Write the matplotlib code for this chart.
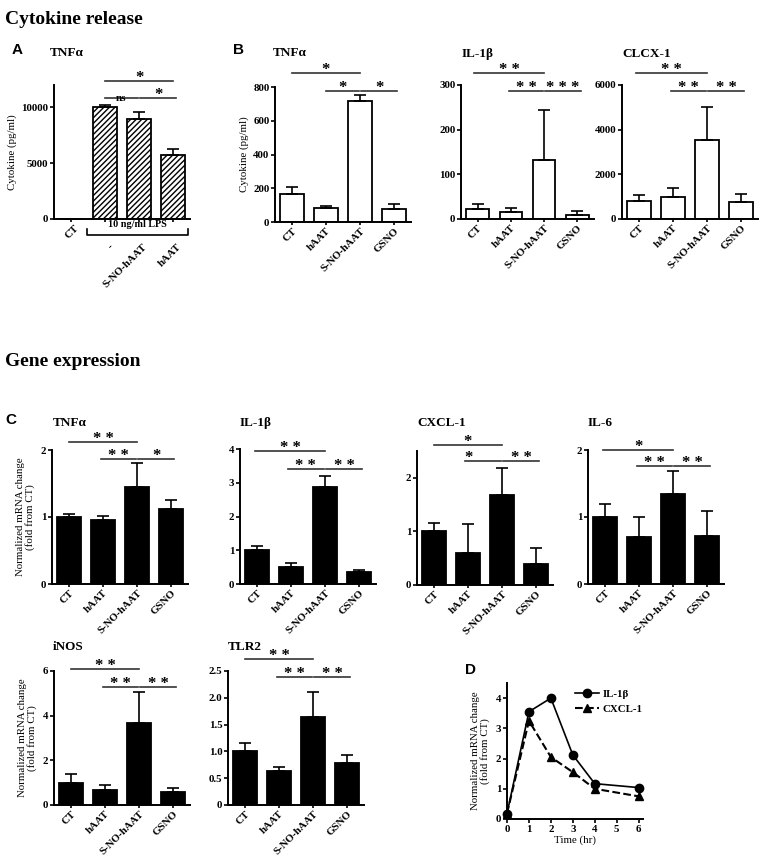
import numpy as np
import matplotlib
matplotlib.use('Agg')
import matplotlib.pyplot as plt

plt.rcParams['font.family'] = ['Liberation Serif', 'DejaVu Serif']
plt.rcParams['font.weight'] = 'bold'

# ---- data ----
groups = ['CT', 'hAAT', 'S-NO-hAAT', 'GSNO']
groups_a = ['CT', '-', 'S-NO-hAAT', 'hAAT']

# A: TNFa release with LPS
a_tnf = [0, 10000, 9000, 5700]
a_tnf_err = [0, 250, 600, 550]

# B: cytokine release
b_tnf = [165, 85, 720, 80]
b_tnf_err = [45, 12, 30, 25]
b_il1b = [22, 15, 133, 10]
b_il1b_err = [12, 10, 110, 8]
b_clcx = [800, 1000, 3550, 750]
b_clcx_err = [280, 400, 1450, 380]

# C: gene expression
c_tnf = [1.0, 0.96, 1.45, 1.12]
c_tnf_err = [0.05, 0.06, 0.35, 0.14]
c_il1b = [1.0, 0.5, 2.87, 0.35]
c_il1b_err = [0.12, 0.12, 0.33, 0.07]
c_cxcl = [1.0, 0.6, 1.67, 0.4]
c_cxcl_err = [0.15, 0.53, 0.52, 0.29]
c_il6 = [1.0, 0.7, 1.35, 0.72]
c_il6_err = [0.2, 0.3, 0.33, 0.37]
c_inos = [1.0, 0.68, 3.65, 0.58]
c_inos_err = [0.38, 0.2, 1.4, 0.2]
c_tlr2 = [1.0, 0.63, 1.65, 0.78]
c_tlr2_err = [0.15, 0.08, 0.45, 0.15]

# D: time course
d_time = [0, 1, 2, 3, 4, 6]
d_il1b = [0.18, 3.55, 4.0, 2.12, 1.17, 1.04]
d_cxcl = [0.18, 3.25, 2.05, 1.55, 1.0, 0.75]

W, H = 765, 866
fig = plt.figure(figsize=(W / 100, H / 100), dpi=100)

TICK = 7.8
TITLE = 9.5


def add_ax(l, t, r, b):
    ax = fig.add_axes([l / W, 1 - b / H, (r - l) / W, (b - t) / H])
    ax.spines['top'].set_visible(False)
    ax.spines['right'].set_visible(False)
    ax.spines['left'].set_linewidth(1.4)
    ax.spines['bottom'].set_linewidth(1.4)
    ax.tick_params(axis='y', length=3, width=1.2, labelsize=TICK, pad=1)
    ax.tick_params(axis='x', length=2, width=1.2, labelsize=TICK, pad=1)
    ax._box = (l, t, r, b)
    return ax


def fy(ax, py):
    l, t, r, b = ax._box
    return (b - py) / (b - t)


def bars(ax, vals, errs, hatch=None, color='black'):
    x = np.arange(len(vals))
    if hatch:
        ax.bar(x, vals, width=0.68, color='white', edgecolor='black',
               hatch=hatch, linewidth=1.3, zorder=2)
    else:
        ax.bar(x, vals, width=0.68, color=color, edgecolor='black',
               linewidth=1.3, zorder=2)
    ax.errorbar(x, vals, yerr=[np.zeros(len(errs)), errs], fmt='none',
                ecolor='black', elinewidth=1.2, capsize=4, capthick=1.2,
                zorder=3)
    ax.set_xlim(-0.5, 3.5)


def xlabels(ax, labels):
    ax.set_xticks(range(len(labels)))
    ax.set_xticklabels(labels, rotation=45, ha='right',
                       rotation_mode='anchor', fontsize=TICK)


def sig(ax, x0, x1, py, label, left=False, size=12):
    tr = ax.get_xaxis_transform()
    y = fy(ax, py)
    ax.plot([x0, x1], [y, y], color='#333333', lw=1.2, transform=tr,
            clip_on=False)
    xm = x0 + 0.12 if left else (x0 + x1) / 2
    ax.text(xm, y - 0.04, label, transform=tr, ha='center', va='bottom',
            fontsize=size, clip_on=False)


def title(s, px, py):
    fig.text(px / W, 1 - py / H, s, fontsize=TITLE, fontweight='bold',
             ha='left', va='center')


def letter(s, px, py):
    fig.text(px / W, 1 - py / H, s, fontsize=11, fontweight='bold',
             family='Liberation Sans', ha='left', va='center')


# section headers
fig.text(5 / W, 1 - 20 / H, 'Cytokine release', fontsize=14,
         fontweight='bold', ha='left', va='center')
fig.text(5 / W, 1 - 361 / H, 'Gene expression', fontsize=14,
         fontweight='bold', ha='left', va='center')

# ---- A ----
ax = add_ax(54, 85, 190, 219)
bars(ax, a_tnf, a_tnf_err, hatch='//////')
ax.set_ylim(0, 12000)
ax.set_yticks([0, 5000, 10000])
ax.set_xticks(range(4))
ax.set_xticklabels([])
ax.set_ylabel('Cytokine (pg/ml)', fontsize=TICK, labelpad=3)
tr = ax.get_xaxis_transform()
ax.text(0.1, fy(ax, 223), groups_a[0], transform=tr, rotation=45,
        ha='right', va='top', rotation_mode='anchor', fontsize=TICK)
for i in range(1, 4):
    ax.text(i + 0.1, fy(ax, 242), groups_a[i], transform=tr, rotation=45,
            ha='right', va='top', rotation_mode='anchor', fontsize=TICK)
yb, yt = fy(ax, 235), fy(ax, 229)
ax.plot([0.47, 0.47, 3.44, 3.44], [yt, yb, yb, yt], color='black', lw=1.2,
        transform=tr, clip_on=False)
ax.text(1.95, fy(ax, 229), '10 ng/ml LPS', transform=tr, ha='center',
        va='bottom', fontsize=TICK - 0.5)
sig(ax, 1, 3, 81, '*')
sig(ax, 1, 1.97, 98, 'ns', size=8)
sig(ax, 2.03, 3.1, 98, '*')
title('TNFα', 50, 53)
letter('A', 12, 50)

# ---- B ----
ax = add_ax(275, 87, 411, 222)
bars(ax, b_tnf, b_tnf_err, color='white')
ax.set_ylim(0, 800)
ax.set_yticks([0, 200, 400, 600, 800])
xlabels(ax, groups)
ax.set_ylabel('Cytokine (pg/ml)', fontsize=TICK, labelpad=3)
sig(ax, 0, 2, 73, '*')
sig(ax, 1, 1.97, 91, '*')
sig(ax, 2.03, 3.1, 91, '*')
title('TNFα', 273, 53)
letter('B', 233, 50)

ax = add_ax(461, 85, 594, 219)
bars(ax, b_il1b, b_il1b_err, color='white')
ax.set_ylim(0, 300)
ax.set_yticks([0, 100, 200, 300])
xlabels(ax, groups)
sig(ax, -0.1, 2, 73, '* *')
sig(ax, 0.95, 1.97, 91, '* *')
sig(ax, 2.03, 3.1, 91, '* * *')
title('IL-1β', 462, 54)

ax = add_ax(622, 85, 758, 219)
bars(ax, b_clcx, b_clcx_err, color='white')
ax.set_ylim(0, 6000)
ax.set_yticks([0, 2000, 4000, 6000])
xlabels(ax, groups)
sig(ax, -0.1, 2, 73, '* *')
sig(ax, 0.95, 1.97, 91, '* *')
sig(ax, 2.03, 3.1, 91, '* *')
title('CLCX-1', 622, 54)

# ---- C ----
ylab = 'Normalized mRNA change\n(fold from CT)'

ax = add_ax(52, 450, 188, 584)
bars(ax, c_tnf, c_tnf_err)
ax.set_ylim(0, 2)
ax.set_yticks([0, 1, 2])
xlabels(ax, groups)
ax.set_ylabel(ylab, fontsize=TICK, labelpad=4, linespacing=1.1)
sig(ax, 0, 2, 442, '* *')
sig(ax, 0.95, 1.97, 459, '* *')
sig(ax, 2.03, 3.1, 459, '*')
title('TNFα', 53, 423)
letter('C', 5, 420)

ax = add_ax(240, 449, 376, 584)
bars(ax, c_il1b, c_il1b_err)
ax.set_ylim(0, 4)
ax.set_yticks([0, 1, 2, 3, 4])
xlabels(ax, groups)
sig(ax, -0.05, 2, 451, '* *')
sig(ax, 0.9, 1.97, 469, '* *')
sig(ax, 2.03, 3.1, 469, '* *')
title('IL-1β', 240, 423)

ax = add_ax(417, 451, 553, 585)
bars(ax, c_cxcl, c_cxcl_err)
ax.set_ylim(0, 2.5)
ax.set_yticks([0, 1, 2])
xlabels(ax, groups)
sig(ax, 0, 2, 445, '*')
sig(ax, 0.9, 1.97, 461, '*', left=True)
sig(ax, 2.03, 3.1, 461, '* *')
title('CXCL-1', 417, 423)

ax = add_ax(588, 450, 724, 584)
bars(ax, c_il6, c_il6_err)
ax.set_ylim(0, 2)
ax.set_yticks([0, 1, 2])
xlabels(ax, groups)
sig(ax, -0.05, 2, 450, '*')
sig(ax, 0.95, 1.97, 466, '* *')
sig(ax, 2.03, 3.1, 466, '* *')
title('IL-6', 588, 423)

ax = add_ax(54, 671, 190, 805)
bars(ax, c_inos, c_inos_err)
ax.set_ylim(0, 6)
ax.set_yticks([0, 2, 4, 6])
xlabels(ax, groups)
ax.set_ylabel(ylab, fontsize=TICK, labelpad=4, linespacing=1.1)
sig(ax, 0, 2, 669, '* *')
sig(ax, 0.95, 1.97, 687, '* *')
sig(ax, 2.03, 3.1, 687, '* *')
title('iNOS', 53, 647)

ax = add_ax(228, 671, 364, 805)
bars(ax, c_tlr2, c_tlr2_err)
ax.set_ylim(0, 2.5)
ax.set_yticks([0, 0.5, 1.0, 1.5, 2.0, 2.5])
ax.set_yticklabels(['0', '0.5', '1.0', '1.5', '2.0', '2.5'])
xlabels(ax, groups)
sig(ax, 0, 2, 659, '* *')
sig(ax, 0.95, 1.97, 677, '* *')
sig(ax, 2.03, 3.1, 677, '* *')
title('TLR2', 228, 647)

# ---- D ----
ax = add_ax(507, 683, 643, 819)
ax.plot(d_time, d_il1b, '-', color='black', lw=1.2, marker='o',
        markersize=6, clip_on=False, zorder=3, label='IL-1β')
ax.plot(d_time, d_cxcl, '--', color='black', lw=1.5, marker='^',
        markersize=6, clip_on=False, zorder=3, label='CXCL-1')
ax.set_xlim(0, 6.2)
ax.set_ylim(0, 4.5)
ax.set_xticks(range(7))
ax.set_yticks([0, 1, 2, 3, 4])
ax.tick_params(axis='x', length=3)
ax.set_xlabel('Time (hr)', fontsize=TICK, labelpad=1)
ax.set_ylabel(ylab, fontsize=TICK, labelpad=4, linespacing=1.1)
ax.legend(loc='upper left', bbox_to_anchor=(0.45, 1.0), frameon=False,
          fontsize=TICK, handlelength=2.2, handletextpad=0.4,
          borderaxespad=0.2)
letter('D', 465, 670)

fig.savefig('out.png', dpi=100)
